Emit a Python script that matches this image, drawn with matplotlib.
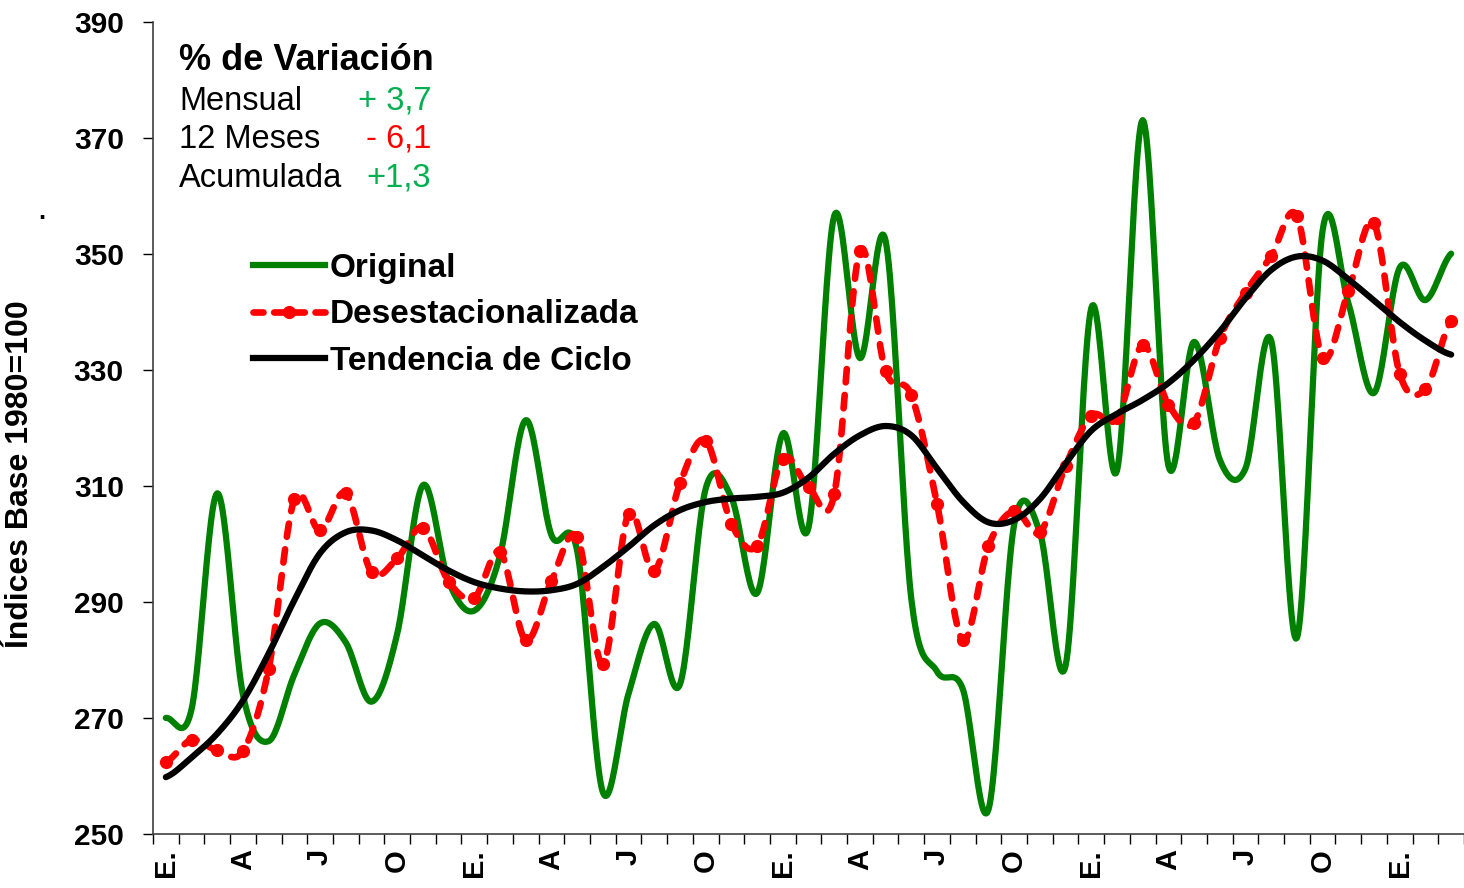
import numpy as np
import matplotlib.pyplot as plt
from matplotlib.lines import Line2D

plt.rcParams['font.family'] = ['Liberation Sans', 'DejaVu Sans']

# valores mensuales (E. año 1 ... marzo año 5)
original = [270.0, 271.5, 308.7, 274.0, 266.0, 277.5, 286.3, 283.0, 272.8, 284.5,
            310.1, 293.5, 288.5, 298.0, 321.3, 301.5, 298.8, 257.2, 274.2, 286.2,
            275.8, 309.5, 308.0, 291.5, 319.0, 302.8, 356.5, 332.0, 352.2, 290.5,
            278.0, 275.0, 254.2, 303.3, 302.0, 279.0, 340.6, 312.6, 373.0, 313.5,
            334.8, 314.5, 313.0, 335.0, 283.8, 354.0, 341.5, 326.0, 347.6, 342.0,
            350.0]
desestacionalizada = [262.4, 266.2, 264.4, 264.3, 278.5, 307.7, 302.3, 308.7, 295.1, 297.5,
                      302.8, 293.5, 290.7, 298.6, 283.4, 293.6, 301.2, 279.3, 305.2, 295.3,
                      310.4, 317.8, 303.5, 299.7, 314.7, 309.8, 308.5, 350.5, 329.7, 325.6,
                      306.9, 283.4, 299.6, 305.7, 302.0, 313.4, 322.1, 321.6, 334.2, 324.0,
                      320.9, 335.4, 343.3, 349.6, 356.5, 332.1, 343.5, 355.2, 329.3, 326.7,
                      338.4]
tendencia = [259.8, 263.2, 267.3, 273.0, 281.1, 290.3, 298.4, 302.0, 302.3, 300.6,
             298.0, 295.4, 293.4, 292.3, 291.8, 292.0, 293.1, 296.0, 299.5, 303.2,
             305.8, 307.2, 307.8, 308.1, 308.8, 311.4, 315.5, 318.7, 320.3, 318.7,
             313.0, 307.3, 303.7, 304.1, 307.7, 313.8, 319.5, 322.4, 324.8, 327.7,
             331.7, 336.6, 342.3, 347.2, 349.5, 348.8, 345.6, 341.9, 338.2, 335.0,
             332.6]
tick_labels = ['E.', 'A', 'J', 'O'] * 4 + ['E.']

var_labels = ['Mensual', '12 Meses', 'Acumulada']
var_values = ['+ 3,7', '- 6,1', '+1,3']
var_colors = ['#00B050', '#FF0000', '#00B050']


def smooth(values, n=24):
    """Curva suavizada tipo Excel (Bezier Catmull-Rom) que pasa por los puntos."""
    p = np.asarray(values, float)
    pad = np.r_[p[0], p, p[-1]]
    t = np.linspace(0, 1, n, endpoint=False)
    xs, ys = [], []
    for i in range(len(p) - 1):
        p0, p1, p2, p3 = pad[i], pad[i + 1], pad[i + 2], pad[i + 3]
        c1 = p1 + (p2 - p0) / 6
        c2 = p2 - (p3 - p1) / 6
        ys.append((1 - t)**3 * p1 + 3 * (1 - t)**2 * t * c1 + 3 * (1 - t) * t**2 * c2 + t**3 * p2)
        xs.append(i + t)
    xs.append([len(p) - 1])
    ys.append([p[-1]])
    return np.concatenate(xs), np.concatenate(ys)


fig = plt.figure(figsize=(14.64, 8.88), dpi=100)
ax = fig.add_axes([153 / 1464, 54 / 888, (1464 - 153) / 1464, (834 - 21.5) / 888])

x = np.arange(len(original))

xs, ys = smooth(original)
ax.plot(xs, ys, color='#008000', lw=4.5, solid_capstyle='round', zorder=2)

xs, ys = smooth(desestacionalizada)
ax.plot(xs, ys, color='#FF0000', lw=4.8, linestyle=(0, (2.0, 1.9)),
        dash_capstyle='round', zorder=3)
ax.plot(x, desestacionalizada, linestyle='none', marker='o', ms=8.5,
        color='#FF0000', zorder=3)

xs, ys = smooth(tendencia)
ax.plot(xs, ys, color='black', lw=4.5, solid_capstyle='round', zorder=4)

ax.set_xlim(-0.5, -0.5 + (1464 - 153) / 25.77)
ax.set_ylim(250, 390)
ax.set_yticks(np.arange(250, 391, 20))
ax.tick_params(axis='y', direction='out', length=7, width=1, pad=14,
               labelsize=21.5)
for lbl in ax.get_yticklabels():
    lbl.set_fontweight('bold')

ax.set_xticks(np.arange(0, len(original), 3))
ax.set_xticklabels(tick_labels, rotation=90, fontsize=21, fontweight='bold')
ax.set_xticks(np.arange(-0.5, len(original), 1), minor=True)
ax.tick_params(axis='x', which='major', length=0, pad=11)
ax.tick_params(axis='x', which='minor', direction='out', length=7, width=1)

for side in ['top', 'right']:
    ax.spines[side].set_visible(False)
for side in ['left', 'bottom']:
    ax.spines[side].set_color('#404040')
    ax.spines[side].set_linewidth(1.2)

ax.set_ylabel('Índices Base 1980=100', fontsize=23, fontweight='bold')
ax.yaxis.set_label_coords((35 - 153) / 1311, (834 - 474) / 812.5)
fig.text(42 / 1464, 1 - 212 / 888, '.', fontsize=18, fontweight='bold',
         ha='center', va='center')

# cuadro de variaciones
fig.text(179 / 1464, 1 - 60 / 888, '% de Variación', fontsize=26,
         fontweight='bold', va='center')
for k, (lab, val, col) in enumerate(zip(var_labels, var_values, var_colors)):
    yy = 1 - (101 + 38.5 * k) / 888
    fig.text(179 / 1464, yy, lab, fontsize=23.5, va='center')
    fig.text(431 / 1464, yy, val, fontsize=23.5, va='center', ha='right', color=col)

handles = [
    Line2D([], [], color='#008000', lw=4.5),
    Line2D([], [], color='#FF0000', lw=4.8, linestyle=(0, (1.5, 1.6)),
           dash_capstyle='round', marker='o', ms=8.5),
    Line2D([], [], color='black', lw=4.5),
]
fig.legend(handles, ['Original', 'Desestacionalizada', 'Tendencia de Ciclo'],
           loc='upper left', bbox_to_anchor=(253 / 1464, 1 - 253 / 888),
           frameon=False, borderpad=0, borderaxespad=0, handlelength=2.15,
           handletextpad=0.15, labelspacing=0.46,
           prop={'weight': 'bold', 'size': 24})

fig.savefig('out.png', dpi=100)
